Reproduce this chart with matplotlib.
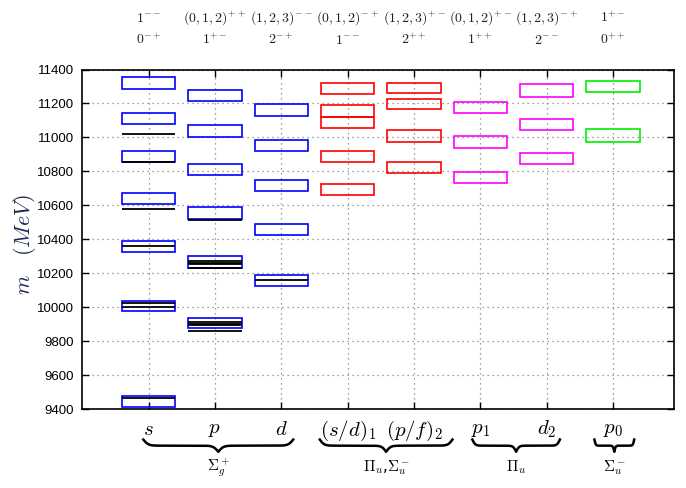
import numpy as np
import matplotlib
matplotlib.use("Agg")
import matplotlib.pyplot as plt
import matplotlib.transforms as mtransforms

plt.rcParams['mathtext.fontset'] = 'cm'

# lattice mass ranges (low, high) in MeV for each channel
s_boxes = [(11286, 11353), (11077, 11145), (10853, 10918), (10606, 10671),
           (10326, 10391), (9975, 10039), (9409, 9476)]
p_boxes = [(11215, 11282), (11004, 11071), (10777, 10841), (10521, 10588),
           (10231, 10302), (9875, 9939)]
d_boxes = [(11129, 11194), (10918, 10982), (10682, 10747), (10424, 10489),
           (10125, 10192)]
sd1_boxes = [(11253, 11318), (11121, 11190), (11053, 11121), (10853, 10918),
             (10659, 10723)]
pf2_boxes = [(11259, 11323), (11165, 11229), (10971, 11041), (10788, 10853)]
p1_boxes = [(11141, 11206), (10935, 11006), (10729, 10794)]
d2_boxes = [(11239, 11312), (11041, 11106), (10841, 10906)]
p0_boxes = [(11265, 11335), (10975, 11047)]

# experimental levels
exp_s = [11021, 10857, 10579, 10359, 10023, 9999, 9462]
exp_p = [10512, 10269, 10260, 10255, 10232, 9912, 9899, 9893, 9859]
exp_d = [10161]

columns = [s_boxes, p_boxes, d_boxes, sd1_boxes, pf2_boxes, p1_boxes, d2_boxes, p0_boxes]
colors = ['blue', 'blue', 'blue', 'red', 'red', 'magenta', 'magenta', '#00ee00']
experiments = {1: exp_s, 2: exp_p, 3: exp_d}

tick_labels = ['$s$', '$p$', '$d$', '$(s/d)_1$', '$(p/f)_2$', '$p_1$', '$d_2$', '$p_0$']
top_row1 = ['$1^{--}$', '$(0,1,2)^{++}$', '$(1,2,3)^{--}$', '$(0,1,2)^{-+}$',
            '$(1,2,3)^{+-}$', '$(0,1,2)^{+-}$', '$(1,2,3)^{-+}$', '$1^{+-}$']
top_row2 = ['$0^{-+}$', '$1^{+-}$', '$2^{-+}$', '$1^{--}$',
            '$2^{++}$', '$1^{++}$', '$2^{--}$', '$0^{++}$']
groups = [(1, 3, r'$\Sigma_g^+$'), (4, 5, r'$\Pi_u$,$\Sigma_u^-$'),
          (6, 7, r'$\Pi_u$'), (8, 8, r'$\Sigma_u^-$')]

fig = plt.figure(figsize=(6.86, 4.88), dpi=100)
ax = fig.add_axes([82.3 / 686, 79 / 488, (674 - 82.3) / 686, 339.5 / 488])

half = 0.4
for i, (boxes, c) in enumerate(zip(columns, colors), start=1):
    lo = np.array([b[0] for b in boxes])
    hi = np.array([b[1] for b in boxes])
    ax.bar([i] * len(boxes), hi - lo, bottom=lo, width=2 * half, fill=False,
           edgecolor=c, linewidth=1.2, zorder=3)
    if i in experiments:
        ax.hlines(experiments[i], i - half, i + half, colors='black', linewidth=1.3, zorder=4)

ax.set_xlim(0, 8.92)
ax.set_ylim(9400, 11400)
ax.set_yticks(np.arange(9400, 11401, 200))
ax.set_xticks(range(1, 9))
ax.set_xticklabels(tick_labels, fontsize=15)
for lab in ax.get_yticklabels():
    lab.set_fontfamily('Liberation Sans')
    lab.set_fontsize(9.5)
ax.tick_params(direction='in', top=True, right=True, length=5, width=1)
ax.tick_params(axis='x', pad=7)
ax.tick_params(axis='y', pad=6)
ax.grid(True, color='gray', linestyle=(0, (1, 3)), linewidth=0.9)
ax.set_axisbelow(True)
for sp in ax.spines.values():
    sp.set_linewidth(1.2)

fig.text(25 / 686, 1 - 245 / 488, r'$m\quad(MeV)$', rotation=90, fontsize=16,
         color='#1f2a55', ha='center', va='center')

trans = mtransforms.blended_transform_factory(ax.transData, ax.transAxes)
for i in range(8):
    ax.text(i + 1, 1.152, top_row1[i], transform=trans, ha='center', va='center',
            fontsize=10, color='#222222')
    ax.text(i + 1, 1.087, top_row2[i], transform=trans, ha='center', va='center',
            fontsize=10, color='#222222')


def brace(x0, x1, label):
    x = np.linspace(x0, x1, 401)
    mid = 0.5 * (x0 + x1)
    span = x1 - x0
    beta = 60.0 / max(span, 0.6)
    xh = x[:201]
    yh = 1 / (1 + np.exp(-beta * (xh - xh[0]))) + 1 / (1 + np.exp(-beta * (xh - xh[-1])))
    y = np.concatenate((yh, yh[-2::-1]))
    y = -0.090 - (y - 0.5) * 0.036
    ax.plot(x, y, transform=trans, color='black', linewidth=1.8, clip_on=False)
    ax.text(mid, -0.172, label, transform=trans, ha='center', va='center', fontsize=11)


brace_ext = {1: (0.92, 3.18), 4: (3.58, 5.58), 6: (5.88, 7.2), 8: (7.72, 8.32)}
for g0, g1, lab in groups:
    x0, x1 = brace_ext[g0]
    brace(x0, x1, lab)

fig.savefig('out.png', dpi=100)
